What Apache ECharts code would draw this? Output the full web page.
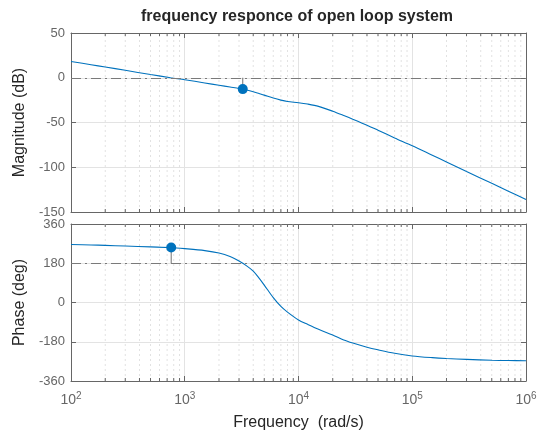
<!DOCTYPE html>
<html>
<head>
<meta charset="utf-8">
<script src="https://cdn.jsdelivr.net/npm/echarts@6/dist/echarts.min.js"></script>
<style>
  html, body { margin: 0; padding: 0; background: #fff; }
  #chart { width: 543px; height: 432px; }
</style>
</head>
<body>
<div id="chart"></div>
<script>
// frequency grid (rad/s)
const freq = [100, 150, 200, 300, 500, 750, 1000, 1500, 2000, 2500, 3000, 3500, 4000,
  4500, 5000, 6000, 7000, 8000, 10000, 12000, 15000, 20000, 25000, 30000, 40000, 50000,
  70000, 100000, 150000, 200000, 300000, 500000, 700000, 1000000]
const magDb = [18.2, 14.6, 12.0, 8.3, 3.6, 0, -2.2, -5.8, -8.4, -10.4, -12.0, -13.7, -15.6,
  -17.6, -19.4, -22.7, -25.0, -26.5, -27.9, -29.4, -32.0, -37.4, -42.2, -46.3, -53.0, -58.6,
  -67.2, -76, -86.6, -94.1, -104.7, -118, -126.7, -136]
const phaseDeg = [266, 264, 262, 259, 255, 252, 247, 238, 227, 211, 190, 168, 144,
  112, 80, 22, -18, -44, -80, -100, -123, -149, -172, -186, -205, -217,
  -233, -245, -253, -257, -261, -265, -266, -267]

// margin markers
const gmFreq = 3236, gmMag = -12.7
const pmFreq = 760, pmPhase = 252

// axes
const magTicks = [-150, -100, -50, 0, 50]
const phaseTicks = [-360, -180, 0, 180, 360]
const minorSteps = [2, 3, 4, 5, 6, 7, 8, 9]
const decades = [100, 1000, 10000, 100000]
const minorFreq = []
decades.forEach(d => minorSteps.forEach(m => minorFreq.push(d * m)))

const axisGray = '#666'
const textDark = '#262626'
const lineBlue = '#0072BD'
const font = 'Liberation Sans, Arial, Helvetica, sans-serif'

const chart = echarts.init(document.getElementById('chart'))

const logAxis = (grid, position, labels) => ({
  type: 'log', logBase: 10, min: 100, max: 1000000, gridIndex: grid, position,
  axisLine: { onZero: false, lineStyle: { color: axisGray, width: 1 } },
  axisTick: { inside: true, length: 5, lineStyle: { color: axisGray } },
  axisLabel: labels ? {
    show: true, margin: 10, fontFamily: font,
    formatter: v => '{b|10}{e|' + Math.round(Math.log10(v)) + '}',
    rich: {
      b: { fontSize: 14, color: axisGray, fontFamily: font },
      e: { fontSize: 10, color: axisGray, fontFamily: font, padding: [0, 0, 9, 0] }
    }
  } : { show: false },
  splitLine: { show: position === 'bottom', lineStyle: { color: '#e3e3e3', width: 1 } }
})

const valAxis = (grid, position, ticks, labels, name) => ({
  type: 'value', gridIndex: grid, position,
  min: ticks[0], max: ticks[ticks.length - 1], interval: ticks[1] - ticks[0],
  axisLine: { show: true, lineStyle: { color: axisGray, width: 1 } },
  axisTick: { show: true, inside: true, length: 5, lineStyle: { color: axisGray } },
  axisLabel: { show: labels, color: axisGray, fontSize: 13, fontFamily: font, margin: 6 },
  splitLine: { show: position === 'left', lineStyle: { color: '#e3e3e3', width: 1 } },
  name: name || '', nameLocation: 'middle', nameGap: 36,
  nameTextStyle: { color: textDark, fontSize: 16, fontFamily: font }
})

const minorSeries = (grid, ticks) => ({
  type: 'custom', xAxisIndex: grid * 2, yAxisIndex: grid * 2, z: 1, silent: true,
  data: minorFreq.map(f => [f]),
  renderItem: (params, api) => {
    const bot = api.coord([api.value(0), ticks[0]])
    const top = api.coord([api.value(0), ticks[ticks.length - 1]])
    const tick = { stroke: axisGray, lineWidth: 1 }
    return {
      type: 'group', children: [
        { type: 'line', shape: { x1: bot[0], y1: bot[1], x2: top[0], y2: top[1] },
          style: { stroke: '#e2e2e2', lineWidth: 1, lineDash: [2, 3] } },
        { type: 'line', shape: { x1: bot[0], y1: bot[1], x2: bot[0], y2: bot[1] - 3 }, style: tick },
        { type: 'line', shape: { x1: top[0], y1: top[1], x2: top[0], y2: top[1] + 3 }, style: tick }
      ]
    }
  }
})

const refLine = (value) => ({
  silent: true, symbol: 'none', label: { show: false },
  lineStyle: { color: '#7a7a7a', width: 1.2, type: [10, 4, 2, 4] },
  data: [{ yAxis: value }]
})

chart.setOption({
  animation: false,
  graphic: [{
    type: 'text', x: 297, y: 17,
    style: { text: 'frequency responce of open loop system', fill: textDark,
      font: 'bold 16px ' + font, textAlign: 'center', textVerticalAlign: 'middle' }
  }],
  grid: [
    { left: 71, right: 17, top: 33, height: 179 },
    { left: 71, right: 17, top: 224, height: 158 }
  ],
  xAxis: [
    logAxis(0, 'bottom', false),
    logAxis(0, 'top', false),
    Object.assign(logAxis(1, 'bottom', true), {
      name: 'Frequency  (rad/s)', nameLocation: 'middle', nameGap: 34,
      nameTextStyle: { color: textDark, fontSize: 16, fontFamily: font }
    }),
    logAxis(1, 'top', false)
  ],
  yAxis: [
    valAxis(0, 'left', magTicks, true, 'Magnitude (dB)'),
    valAxis(0, 'right', magTicks, false),
    valAxis(1, 'left', phaseTicks, true, 'Phase (deg)'),
    valAxis(1, 'right', phaseTicks, false)
  ],
  series: [
    minorSeries(0, magTicks),
    minorSeries(1, phaseTicks),
    {
      type: 'line', xAxisIndex: 0, yAxisIndex: 0, z: 3,
      data: [[gmFreq, 0], [gmFreq, gmMag]], showSymbol: false,
      lineStyle: { color: '#707070', width: 1 },
      markLine: refLine(0)
    },
    {
      type: 'line', xAxisIndex: 0, yAxisIndex: 0, z: 4, smooth: 0.3,
      data: freq.map((f, i) => [f, magDb[i]]), showSymbol: false,
      lineStyle: { color: lineBlue, width: 1.1 }
    },
    {
      type: 'scatter', xAxisIndex: 0, yAxisIndex: 0, z: 5,
      data: [[gmFreq, gmMag]], symbolSize: 10, itemStyle: { color: lineBlue, opacity: 1 }
    },
    {
      type: 'line', xAxisIndex: 2, yAxisIndex: 2, z: 3,
      data: [[pmFreq, 180], [pmFreq, pmPhase]], showSymbol: false,
      lineStyle: { color: '#707070', width: 1 },
      markLine: refLine(180)
    },
    {
      type: 'line', xAxisIndex: 2, yAxisIndex: 2, z: 4, smooth: 0.3,
      data: freq.map((f, i) => [f, phaseDeg[i]]), showSymbol: false,
      lineStyle: { color: lineBlue, width: 1.1 }
    },
    {
      type: 'scatter', xAxisIndex: 2, yAxisIndex: 2, z: 5,
      data: [[pmFreq, pmPhase]], symbolSize: 10, itemStyle: { color: lineBlue, opacity: 1 }
    }
  ]
})
</script>
</body>
</html>
